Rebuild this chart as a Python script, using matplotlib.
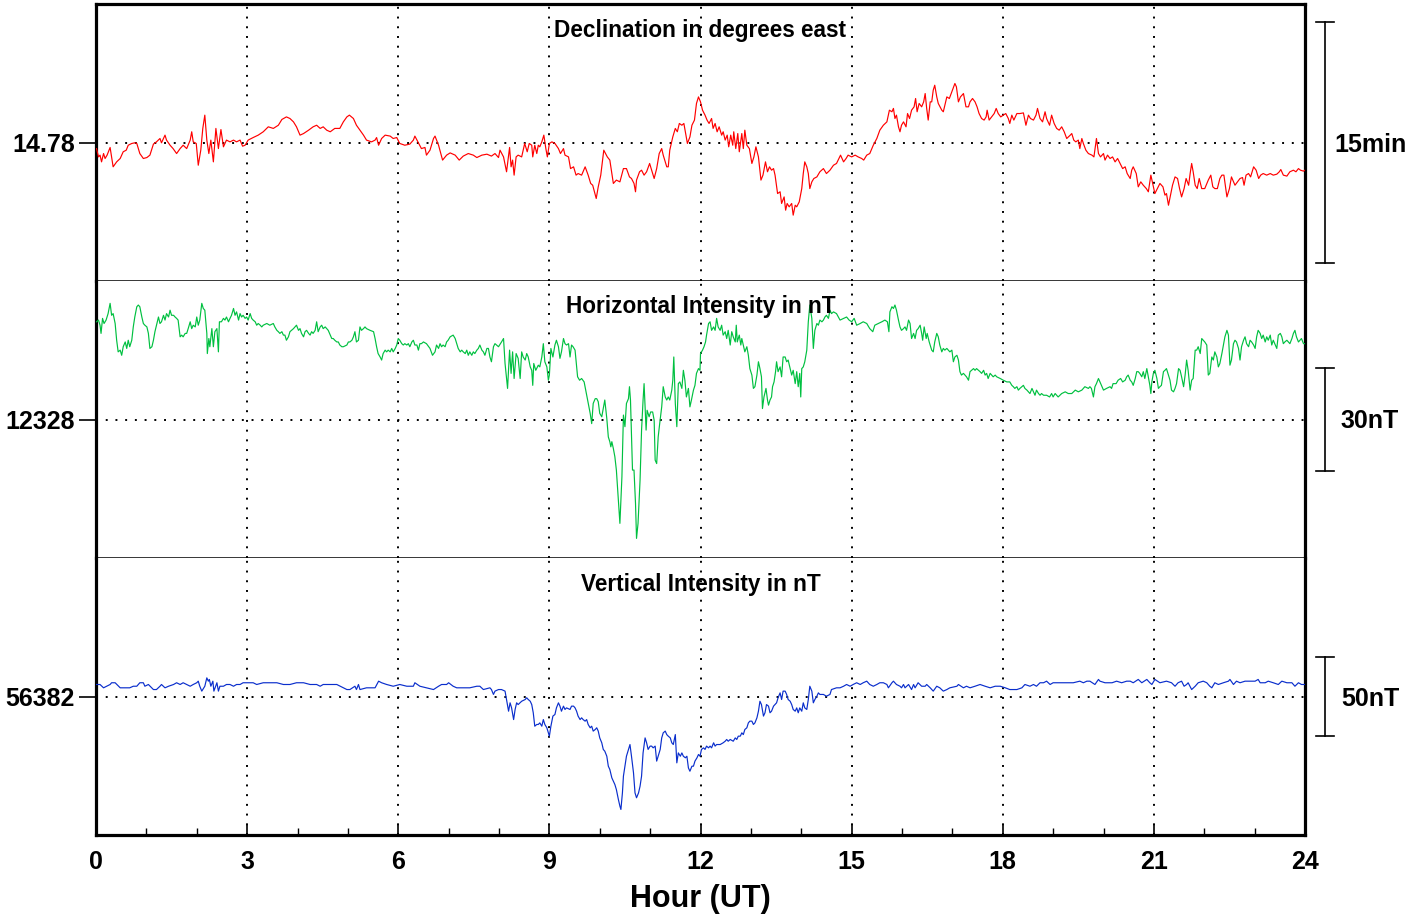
import matplotlib
matplotlib.use("Agg")
import matplotlib.pyplot as plt
from matplotlib.transforms import blended_transform_factory, offset_copy
from matplotlib.ticker import MultipleLocator

plt.rcParams['font.family'] = ['Liberation Sans', 'DejaVu Sans']
plt.rcParams['font.weight'] = 'bold'

# ---------------- data ----------------
D_BASE = 14.78      # degrees
H_BASE = 12328      # nT
Z_BASE = 56382      # nT
SCALE_D_ARCMIN = 15
SCALE_H_NT = 30
SCALE_Z_NT = 50

# Declination deviation from baseline, arc-minutes
D_HOURS = [
    0.01,0.05,0.08,0.11,0.15,0.18,0.22,0.28,0.31,0.34,
    0.41,0.48,0.54,0.60,0.64,0.71,0.77,0.81,0.87,0.94,
    1.01,1.07,1.14,1.20,1.27,1.30,1.37,1.40,1.47,1.53,
    1.60,1.67,1.73,1.80,1.87,1.90,1.93,1.99,2.03,2.08,
    2.12,2.16,2.20,2.24,2.28,2.33,2.38,2.43,2.48,2.53,
    2.59,2.66,2.73,2.79,2.86,2.91,2.96,3.02,3.12,3.22,
    3.32,3.42,3.52,3.62,3.69,3.78,3.85,3.92,3.98,4.05,
    4.12,4.22,4.31,4.38,4.45,4.51,4.58,4.65,4.74,4.84,
    4.91,4.98,5.03,5.11,5.17,5.24,5.31,5.37,5.47,5.54,
    5.57,5.61,5.67,5.74,5.84,5.90,5.97,6.03,6.13,6.23,
    6.30,6.33,6.40,6.46,6.53,6.56,6.63,6.70,6.73,6.80,
    6.88,6.96,7.03,7.13,7.21,7.29,7.39,7.49,7.56,7.66,
    7.76,7.85,7.92,7.99,
    8.02,8.09,8.15,8.21,8.24,8.27,8.30,8.34,8.38,8.45,
    8.51,8.56,8.60,8.65,8.67,8.71,8.75,8.78,8.81,8.85,
    8.89,8.93,8.96,9.00,9.05,9.11,9.18,9.22,9.28,9.31,
    9.38,9.42,9.48,9.53,9.57,9.64,9.71,9.77,9.82,9.86,
    9.93,9.97,10.02,10.08,10.15,10.20,10.27,10.33,10.40,10.47,
    10.53,10.59,10.63,10.68,10.71,10.73,10.79,10.83,10.88,10.93,
    10.99,11.03,11.08,11.13,11.18,11.23,11.26,11.33,11.36,11.39,
    11.45,11.50,11.54,11.58,11.63,11.67,11.71,11.74,11.79,11.83,
    11.88,11.92,11.96,12.00,12.04,12.09,12.13,12.17,12.22,12.25,
    12.29,12.33,12.37,12.42,12.45,12.49,12.53,12.56,12.60,12.64,
    12.66,12.70,12.74,12.77,12.82,12.85,12.88,12.92,12.97,13.02,
    13.06,13.10,13.15,13.20,13.24,13.29,13.33,13.37,13.41,13.45,
    13.48,13.53,13.58,13.61,13.66,13.69,13.72,13.76,13.81,13.84,
    13.88,13.91,13.96,14.01,14.04,14.07,14.11,14.14,14.17,14.21,
    14.25,14.31,14.37,14.44,14.50,14.57,14.64,14.70,14.78,14.84,
    14.89,14.93,15.00,15.07,15.13,15.20,15.24,15.30,15.36,15.43,
    15.50,15.56,15.63,15.70,15.75,15.80,15.83,15.86,15.89,15.93,
    15.96,
    15.99,16.03,16.08,16.11,16.15,16.19,16.24,16.27,16.30,16.34,
    16.39,16.43,16.46,16.49,16.52,16.56,16.59,16.62,16.65,16.69,
    16.72,16.79,16.82,16.85,16.89,16.94,16.99,17.05,17.08,17.12,
    17.16,17.22,17.27,17.32,17.35,17.40,17.45,17.49,17.53,17.58,
    17.63,17.67,17.69,17.73,17.78,17.83,17.87,17.91,17.96,18.01,
    18.06,18.11,18.14,18.18,18.22,18.28,18.34,18.41,18.46,18.51,
    18.55,18.61,18.66,18.69,18.74,18.79,18.84,18.87,18.93,18.97,
    19.02,19.07,19.12,19.17,19.22,19.27,19.34,19.37,19.41,19.45,
    19.50,19.53,19.57,19.60,19.65,19.70,19.77,19.81,19.86,19.90,
    19.94,20.00,20.03,20.08,20.13,20.18,20.23,20.28,20.33,20.38,
    20.43,20.47,20.53,20.56,20.59,20.65,20.69,20.74,20.79,20.85,
    20.89,20.94,20.99,21.02,21.07,21.12,21.18,21.22,21.25,21.29,
    21.33,21.37,21.42,21.47,21.51,21.55,21.60,21.64,21.69,21.72,
    21.75,21.78,21.82,21.86,21.90,21.95,22.01,22.08,22.13,22.17,
    22.21,22.26,22.31,22.35,22.39,22.45,22.50,22.54,22.61,22.66,
    22.71,22.76,22.79,22.83,22.88,22.92,22.98,23.03,23.08,23.12,
    23.17,23.24,23.31,23.37,23.44,23.49,23.52,23.57,23.64,23.70,
    23.77,23.82,23.87,23.91,23.97,24.00,
]
D_DEV = [
    -0.38,-0.90,-0.79,-1.21,-0.69,-1.00,-0.79,-0.31,-0.90,-1.52,
    -1.21,-1.00,-0.58,-0.48,-0.17,-0.06,-0.02,-0.06,-0.69,-1.00,
    -0.94,-0.79,-0.10,0.04,0.25,-0.02,0.46,0.15,-0.17,-0.38,
    -0.69,-0.38,-0.17,-0.38,0.15,0.67,0.04,-0.06,-1.42,-0.48,
    0.88,1.71,0.15,-0.69,0.15,-1.21,0.88,-0.38,0.81,-0.27,
    0.15,0.04,0.15,0.04,0.15,-0.23,-0.17,0.15,0.31,0.46,
    0.67,0.98,0.88,1.08,1.44,1.60,1.50,1.29,0.98,0.46,
    0.56,0.77,0.98,1.08,0.88,0.98,0.77,0.67,0.88,0.88,
    1.29,1.60,1.71,1.50,1.08,0.77,0.46,0.15,0.04,0.15,
    0.31,-0.17,0.25,0.46,0.40,0.25,0.31,-0.06,-0.17,-0.10,
    0.15,0.40,-0.02,-0.38,-0.31,-0.79,-0.48,0.25,0.40,-0.17,
    -1.10,-0.79,-0.65,-0.79,-1.10,-0.85,-0.69,-0.79,-0.94,-0.79,
    -0.73,-0.85,-0.69,-0.94,
    -0.48,-0.90,-1.83,-0.31,-1.52,-1.10,-2.04,-0.90,-0.79,-0.90,
    -0.06,-0.58,-0.06,-0.17,-0.90,-0.17,-0.69,-0.17,-0.27,0.04,
    0.46,-0.38,-0.90,-0.06,0.04,-0.06,-0.38,-0.69,-0.38,-0.79,
    -0.90,-1.63,-1.52,-2.04,-1.94,-2.04,-1.52,-2.04,-2.56,-2.67,
    -3.50,-2.77,-2.04,-0.48,-0.90,-1.10,-2.56,-2.35,-2.46,-1.63,
    -1.63,-2.15,-2.25,-2.56,-3.08,-2.35,-1.83,-1.73,-2.04,-1.83,
    -1.31,-1.73,-2.25,-1.63,-0.69,-0.38,-0.79,-1.52,-1.52,-0.48,
    0.35,0.88,0.67,1.19,1.08,1.19,0.46,-0.06,0.35,1.08,
    1.40,2.44,2.85,2.54,2.02,1.71,1.40,1.19,1.50,0.88,
    1.19,0.67,0.98,0.46,0.67,0.15,0.46,-0.27,0.46,-0.17,
    0.67,-0.38,0.56,-0.58,0.56,-0.38,0.77,-0.17,-0.38,-1.31,
    -0.90,-0.27,-0.90,-2.35,-2.04,-1.21,-1.83,-1.52,-1.73,-1.63,
    -2.04,-3.19,-3.08,-3.81,-3.40,-4.23,-3.81,-4.02,-3.81,-4.54,
    -3.92,-4.02,-3.71,-2.88,-1.94,-1.21,-1.52,-1.94,-2.88,-2.46,
    -2.25,-2.15,-1.83,-1.63,-1.94,-1.73,-1.42,-1.31,-0.79,-1.21,
    -1.00,-0.79,-0.90,-0.79,-0.90,-1.00,-1.10,-0.79,-0.69,-0.17,
    0.25,0.77,1.08,1.29,2.02,1.92,2.13,1.50,1.71,0.98,
    0.67,
    1.08,1.29,0.98,1.81,1.50,2.02,2.23,2.75,1.92,2.44,
    2.23,2.54,3.06,2.13,1.40,2.54,2.54,3.27,3.58,2.85,
    2.44,2.02,1.92,2.33,2.85,2.75,3.17,3.69,3.48,2.54,
    2.85,3.06,2.23,2.23,2.54,2.75,2.54,2.23,1.81,1.50,
    1.40,1.60,2.02,1.40,1.60,1.81,2.13,1.81,1.60,1.71,
    1.81,1.50,1.19,1.71,1.40,1.81,1.81,1.85,1.08,1.71,
    1.50,1.40,1.71,2.13,1.50,1.29,1.92,1.50,1.08,1.71,
    1.19,0.88,0.77,0.98,0.67,0.25,0.46,0.56,0.15,0.04,
    0.15,-0.38,0.25,-0.06,-0.48,-0.69,-0.79,-0.90,0.25,-0.69,
    -0.90,-0.69,-1.10,-0.79,-1.00,-0.90,-1.21,-1.00,-1.31,-1.63,
    -1.52,-1.94,-2.25,-1.73,-1.52,-1.94,-2.77,-2.46,-2.67,-2.88,
    -3.08,-2.04,-2.77,-3.19,-2.88,-2.56,-2.77,-3.29,-3.19,-3.92,
    -3.29,-2.67,-2.15,-2.25,-2.88,-3.40,-2.88,-2.25,-2.67,-1.94,
    -1.31,-1.83,-2.67,-2.88,-2.25,-2.88,-2.88,-2.35,-2.04,-2.77,
    -2.88,-2.88,-2.25,-2.04,-2.04,-3.40,-2.88,-2.15,-2.67,-2.46,
    -2.25,-2.19,-2.67,-2.04,-1.94,-2.15,-1.52,-1.73,-2.25,-2.04,
    -1.94,-2.04,-1.94,-2.04,-1.98,-1.83,-1.69,-2.04,-2.10,-1.83,
    -1.73,-1.83,-1.63,-1.73,-1.79,-1.73,
]

# Horizontal intensity deviation from baseline, nT
H_HOURS = [
    0.01,0.05,0.08,0.10,0.13,0.16,0.20,0.24,0.28,0.31,
    0.34,0.38,0.41,0.44,0.48,0.51,0.54,0.58,0.61,0.64,
    0.67,0.71,0.74,0.77,0.81,0.84,0.87,0.91,0.94,0.97,
    1.01,1.04,1.07,1.11,1.14,1.17,1.20,1.24,1.27,1.30,
    1.34,1.37,1.40,1.44,1.47,1.50,1.54,1.57,1.60,1.63,
    1.67,1.70,1.73,1.77,1.80,1.83,1.87,1.90,1.93,1.97,
    2.00,2.03,2.06,2.10,2.13,2.16,2.20,2.21,2.24,2.26,
    2.30,2.33,2.36,2.40,2.43,2.45,2.49,2.53,2.56,2.59,
    2.63,2.66,2.69,2.73,2.76,2.79,2.83,2.86,2.89,2.92,
    2.96,2.99,3.02,3.06,3.09,3.12,3.16,3.19,3.22,3.26,
    3.29,3.32,3.39,3.45,3.52,3.55,3.59,3.62,3.65,3.69,
    3.72,3.75,3.78,3.82,3.85,3.92,3.98,4.02,4.05,4.08,
    4.12,4.15,4.18,4.22,4.25,4.28,4.31,4.35,4.38,4.41,
    4.45,4.48,4.51,4.55,4.58,4.61,4.65,4.68,4.71,4.74,
    4.78,4.81,4.84,4.88,4.91,4.98,5.01,5.04,5.08,5.11,
    5.14,5.17,5.21,5.24,5.27,5.31,5.34,5.37,5.44,5.51,
    5.54,5.57,5.60,5.64,5.67,5.70,5.74,5.77,5.80,5.84,
    5.87,5.90,5.94,5.97,6.00,6.03,6.07,6.10,6.13,6.17,
    6.20,6.23,6.27,6.30,6.33,6.37,6.40,6.43,6.46,6.50,
    6.56,6.63,6.68,6.73,6.76,6.80,6.83,6.86,6.89,6.93,
    6.96,6.99,7.03,7.09,7.13,7.16,7.19,7.23,7.26,7.29,
    7.33,7.36,7.39,7.42,7.46,7.49,7.52,7.56,7.59,7.62,
    7.66,7.69,7.72,7.76,7.79,7.82,7.85,7.89,7.92,7.95,
    7.99,
    8.05,8.09,8.12,8.17,8.21,8.24,8.27,8.30,8.34,8.38,
    8.42,8.45,8.48,8.52,8.55,8.58,8.62,8.65,8.67,8.69,
    8.73,8.78,8.81,8.85,8.88,8.91,8.95,8.98,9.00,9.03,
    9.07,9.11,9.14,9.18,9.21,9.24,9.28,9.31,9.34,9.38,
    9.41,9.44,9.47,9.51,9.56,9.60,9.64,9.69,9.74,9.77,
    9.81,9.84,9.87,9.91,9.94,9.97,10.00,10.04,10.07,10.10,
    10.14,10.17,10.20,10.22,10.24,10.27,10.30,10.33,10.37,10.40,
    10.44,10.47,10.50,10.53,10.57,10.59,10.61,10.65,10.68,10.71,
    10.73,10.76,10.80,10.83,10.86,10.88,10.92,10.94,10.98,11.01,
    11.05,11.08,11.10,11.13,11.16,11.19,11.23,11.26,11.30,11.33,
    11.36,11.39,11.43,11.45,11.47,11.50,11.53,11.56,11.59,11.63,
    11.66,11.69,11.72,11.76,11.79,11.82,11.86,11.89,11.92,11.96,
    11.99,12.00,12.04,12.07,12.10,12.12,12.16,12.19,12.22,12.26,
    12.29,12.32,12.35,12.39,12.42,12.45,12.49,12.52,12.55,12.59,
    12.62,12.65,12.69,12.71,12.73,12.77,12.80,12.82,12.85,12.88,
    12.92,12.95,12.98,13.02,13.05,13.08,13.12,13.15,13.18,13.21,
    13.23,13.26,13.30,13.33,13.35,13.38,13.41,13.43,13.46,13.49,
    13.51,13.54,13.58,13.61,13.64,13.68,13.71,13.74,13.78,13.81,
    13.84,13.88,13.91,13.94,13.97,13.99,14.01,14.04,14.07,14.11,
    14.14,14.17,14.21,14.24,14.27,14.31,14.34,14.37,14.41,14.44,
    14.47,14.50,14.54,14.57,14.60,14.64,14.70,14.77,14.84,14.90,
    14.95,15.00,15.05,15.10,15.17,15.23,15.30,15.36,15.42,15.46,
    15.53,15.60,15.66,15.71,15.74,15.76,15.80,15.83,15.86,15.89,
    15.93,15.96,
    15.99,16.03,16.06,16.09,16.13,16.16,16.19,16.23,16.26,16.29,
    16.32,16.36,16.39,16.41,16.44,16.48,16.50,16.54,16.59,16.62,
    16.65,16.69,16.72,16.75,16.79,16.82,16.85,16.89,16.92,16.95,
    16.99,17.02,17.05,17.09,17.12,17.15,17.18,17.22,17.25,17.28,
    17.32,17.35,17.38,17.42,17.45,17.48,17.52,17.55,17.58,17.62,
    17.65,17.68,17.71,17.75,17.78,17.81,17.85,17.88,17.95,18.01,
    18.08,18.14,18.18,18.21,18.24,18.28,18.31,18.34,18.38,18.41,
    18.44,18.48,18.51,18.54,18.58,18.61,18.64,18.67,18.71,18.74,
    18.77,18.81,18.87,18.93,18.97,19.00,19.04,19.10,19.17,19.24,
    19.30,19.37,19.44,19.50,19.57,19.63,19.70,19.73,19.76,19.80,
    19.83,19.86,19.90,19.93,19.96,20.00,20.06,20.13,20.16,20.19,
    20.25,20.29,20.34,20.38,20.43,20.46,20.49,20.53,20.56,20.59,
    20.63,20.66,20.69,20.72,20.76,20.79,20.82,20.86,20.89,20.92,
    20.94,20.96,20.99,21.02,21.06,21.09,21.12,21.15,21.19,21.22,
    21.25,21.29,21.32,21.35,21.39,21.42,21.45,21.49,21.52,21.55,
    21.59,21.62,21.65,21.68,21.72,21.75,21.78,21.82,21.85,21.88,
    21.92,21.95,21.98,22.01,22.05,22.08,22.11,22.15,22.18,22.21,
    22.25,22.28,22.31,22.35,22.38,22.41,22.45,22.48,22.51,22.54,
    22.58,22.61,22.64,22.68,22.71,22.74,22.78,22.81,22.84,22.88,
    22.91,22.94,22.98,23.01,23.04,23.07,23.11,23.14,23.17,23.21,
    23.24,23.27,23.31,23.34,23.37,23.41,23.44,23.47,23.51,23.54,
    23.57,23.60,23.64,23.67,23.70,23.74,23.77,23.80,23.83,23.87,
    23.90,23.93,23.97,24.00,
]
H_DEV = [
    28.6,29.1,27.6,25.2,29.6,28.1,29.1,31.0,34.0,30.5,
    31.0,28.1,23.2,19.8,20.3,18.8,21.3,22.7,20.8,23.2,
    21.3,23.2,27.1,30.0,33.0,33.5,33.0,30.0,28.1,27.6,
    27.1,25.2,20.8,21.3,23.2,25.7,27.6,30.0,28.1,28.6,
    30.5,29.1,31.0,30.0,32.0,30.5,30.5,30.0,29.6,29.1,
    24.2,24.7,24.2,25.2,25.2,26.6,28.6,26.6,27.6,27.1,
    30.0,27.6,29.1,34.0,32.5,32.0,25.2,19.3,23.7,21.3,
    26.6,21.3,25.7,26.6,19.8,28.6,28.6,29.6,29.1,30.0,
    28.6,29.6,30.5,32.5,30.5,31.5,29.1,31.0,30.0,30.5,
    29.6,30.0,29.1,31.0,29.6,29.1,28.6,27.6,28.1,27.6,
    27.1,27.6,28.1,27.6,28.1,27.1,26.1,25.7,25.2,25.7,
    24.7,24.7,23.2,24.2,25.7,26.6,27.6,26.1,26.6,25.2,
    24.2,25.7,26.1,25.2,24.7,25.7,25.2,26.1,28.6,25.7,
    27.1,27.6,26.6,27.1,26.6,26.1,24.7,23.7,23.7,23.2,
    22.7,22.7,21.8,21.3,21.3,21.8,22.7,22.7,23.2,24.2,
    25.7,22.7,23.2,27.1,26.1,26.6,27.1,26.6,26.1,25.7,
    23.7,21.3,19.3,18.3,17.4,19.3,20.3,19.8,20.3,19.8,
    20.8,19.8,20.8,21.8,23.7,23.2,22.2,21.8,22.2,21.8,
    22.2,21.3,22.7,23.2,21.8,21.8,20.3,22.2,22.2,22.7,
    22.2,20.8,18.8,19.8,21.8,20.8,22.2,21.3,21.8,21.3,
    22.7,23.2,24.2,24.7,23.7,22.2,20.8,19.8,20.3,19.8,
    19.3,20.3,18.8,19.8,18.8,19.8,19.3,20.3,20.8,21.8,
    20.3,19.8,18.8,20.8,20.8,18.3,16.9,21.3,22.2,21.8,
    21.3,
    22.7,23.7,16.4,9.1,20.3,13.5,19.8,12.0,19.3,17.9,
    12.0,19.8,18.3,17.4,19.3,18.3,15.4,14.4,10.0,16.4,
    14.4,15.9,15.4,18.3,22.2,16.9,15.4,11.5,13.0,20.8,
    18.3,21.8,23.2,21.3,17.9,19.8,23.7,22.2,21.8,22.2,
    18.3,21.8,21.3,20.3,12.5,11.5,12.0,11.0,7.1,4.7,
    1.8,-1.2,4.7,6.1,6.1,5.2,1.8,0.8,3.2,5.7,
    0.3,-5.1,-6.5,-8.0,-6.5,-8.5,-10.9,-14.8,-23.6,-30.4,
    -16.8,1.3,-2.1,4.7,6.1,9.6,5.7,-14.8,-14.8,-24.6,
    -34.8,-30.4,-17.8,-3.1,5.7,10.5,-3.1,2.7,0.8,2.2,
    2.2,-0.2,-11.9,-12.9,-5.1,-1.2,3.7,9.6,6.6,5.7,
    6.6,5.7,8.6,11.5,18.3,4.7,-2.1,10.5,11.0,9.1,
    14.4,11.5,6.6,9.1,3.7,5.7,8.6,10.0,13.5,14.9,
    14.4,19.3,20.3,21.3,22.7,24.7,28.1,28.6,26.1,27.1,
    26.1,29.6,27.1,26.1,27.6,24.7,25.7,23.7,26.1,21.8,
    25.7,24.2,22.7,27.6,22.7,24.7,21.8,23.7,21.8,19.8,
    21.3,18.8,14.9,13.0,9.1,9.6,13.0,16.9,14.9,12.5,
    3.2,6.6,9.1,5.7,4.2,5.7,6.6,9.6,11.0,14.0,
    16.9,14.0,15.4,12.5,18.3,18.3,16.9,17.4,14.9,13.0,
    14.4,10.5,14.0,9.6,13.5,6.6,14.9,15.4,16.9,20.3,
    28.6,33.5,29.6,20.8,26.1,28.1,27.6,29.1,28.6,29.1,
    30.0,30.5,29.6,32.0,31.0,31.5,31.0,29.1,29.6,30.0,
    29.1,28.6,29.6,27.6,28.1,28.6,28.1,26.6,25.7,27.6,
    28.1,28.6,29.1,28.6,25.7,31.5,33.0,32.5,33.5,32.0,
    29.1,27.1,
    26.1,26.6,27.1,26.1,29.1,28.1,23.7,25.2,23.7,26.1,
    26.6,27.6,25.2,23.2,27.1,23.7,25.2,22.7,20.3,19.8,
    22.7,25.2,24.2,21.8,19.8,20.8,20.3,20.8,20.3,19.8,
    20.3,16.9,18.3,18.8,17.4,14.0,13.0,13.5,13.0,12.5,
    11.5,14.0,14.4,14.9,14.4,14.9,14.4,14.0,13.5,14.4,
    13.0,13.5,12.0,13.5,13.0,12.5,13.0,12.5,12.0,11.5,
    11.0,11.0,10.0,9.6,9.1,9.6,8.6,9.1,9.6,10.0,
    9.1,8.6,8.1,7.6,9.1,8.1,7.1,8.6,7.6,7.1,
    7.6,7.1,7.1,6.6,7.6,6.6,7.6,6.6,7.6,8.1,
    7.6,7.6,8.6,8.1,8.6,9.6,9.1,9.6,9.1,6.6,
    9.6,10.5,12.0,11.0,10.0,8.6,9.1,9.6,9.1,10.5,
    10.5,11.5,12.0,11.0,11.5,12.5,13.0,11.5,11.0,10.0,
    12.0,14.0,14.0,13.5,12.5,14.0,12.0,14.9,12.5,10.0,
    7.6,11.0,13.5,14.4,12.0,9.1,9.6,10.0,14.0,14.4,
    14.9,13.0,11.5,8.6,8.1,9.1,10.5,14.9,14.4,12.5,
    9.6,13.0,17.4,14.4,8.6,11.5,12.0,20.3,20.3,21.3,
    19.3,23.7,23.2,22.7,21.8,13.0,13.5,18.3,17.4,19.8,
    18.3,15.4,16.4,19.3,21.8,24.2,26.1,24.7,15.9,17.4,
    22.2,23.2,22.7,20.8,17.4,21.3,23.2,24.2,22.2,21.3,
    23.2,22.7,21.8,20.8,24.2,26.1,25.2,23.7,24.7,22.7,
    24.2,23.2,24.7,21.8,23.2,21.8,20.8,24.7,25.2,24.2,
    22.2,22.7,23.2,22.7,22.2,23.7,25.2,26.1,24.2,22.7,
    23.2,23.7,22.2,22.2,
]

# Vertical intensity deviation from baseline, nT
Z_HOURS = [
    0.01,0.08,0.15,0.21,0.28,0.31,0.38,0.48,0.54,0.61,
    0.67,0.74,0.81,0.87,0.94,0.97,1.04,1.14,1.20,1.27,
    1.30,1.37,1.44,1.54,1.60,1.67,1.73,1.80,1.87,1.93,
    2.00,2.03,2.06,2.10,2.16,2.20,2.23,2.25,2.28,2.32,
    2.34,2.40,2.43,2.46,2.53,2.59,2.66,2.73,2.79,2.86,
    2.92,3.02,3.12,3.19,3.32,3.45,3.59,3.72,3.85,3.98,
    4.12,4.25,4.38,4.45,4.51,4.65,4.78,4.91,4.98,5.04,
    5.14,5.17,5.21,5.24,5.37,5.54,5.61,5.67,5.77,5.90,
    6.03,6.17,6.30,6.33,6.43,6.56,6.70,6.80,6.86,6.96,
    7.00,7.09,7.16,7.29,7.42,7.56,7.62,7.69,7.82,7.85,
    7.89,7.92,7.99,
    8.05,8.12,8.15,8.19,8.22,8.25,8.29,8.32,8.35,8.38,
    8.45,8.52,8.55,8.58,8.62,8.65,8.68,8.71,8.75,8.78,
    8.81,8.85,8.88,8.91,8.95,8.98,9.00,9.03,9.07,9.11,
    9.14,9.18,9.21,9.24,9.28,9.31,9.34,9.41,9.44,9.48,
    9.51,9.54,9.57,9.61,9.64,9.67,9.71,9.74,9.77,9.81,
    9.84,9.87,9.91,9.94,9.97,10.00,10.04,10.07,10.10,10.14,
    10.17,10.20,10.24,10.27,10.30,10.33,10.37,10.40,10.42,10.45,
    10.47,10.50,10.53,10.57,10.60,10.63,10.67,10.70,10.73,10.77,
    10.80,10.83,10.86,10.90,10.93,10.96,11.00,11.03,11.06,11.10,
    11.13,11.16,11.20,11.23,11.26,11.30,11.33,11.36,11.40,11.43,
    11.46,11.50,11.53,11.56,11.60,11.63,11.66,11.70,11.73,11.76,
    11.79,11.83,11.86,11.89,11.93,11.96,11.99,12.02,12.06,12.09,
    12.12,12.16,12.19,12.22,12.26,12.29,12.32,12.39,12.45,12.49,
    12.52,12.55,12.59,12.65,12.69,12.72,12.75,12.79,12.82,12.85,
    12.88,12.92,12.95,12.98,13.02,13.05,13.08,13.12,13.15,13.18,
    13.21,13.25,13.28,13.31,13.35,13.38,13.41,13.45,13.48,13.51,
    13.54,13.58,13.61,13.64,13.68,13.71,13.74,13.78,13.81,13.84,
    13.88,13.91,13.94,13.97,14.01,14.04,14.07,14.11,14.14,14.17,
    14.21,14.24,14.27,14.31,14.34,14.37,14.44,14.50,14.57,14.60,
    14.70,14.77,14.84,14.90,14.97,15.03,15.10,15.17,15.23,15.30,
    15.36,15.43,15.50,15.56,15.63,15.70,15.73,15.80,15.83,15.89,
    15.96,
    15.99,16.03,16.06,16.13,16.19,16.23,16.26,16.32,16.39,16.46,
    16.49,16.56,16.62,16.69,16.75,16.82,16.89,16.95,17.09,17.12,
    17.22,17.28,17.35,17.45,17.55,17.65,17.75,17.85,17.95,18.05,
    18.14,18.28,18.38,18.44,18.54,18.61,18.67,18.74,18.81,18.87,
    18.94,19.00,19.14,19.27,19.40,19.53,19.60,19.67,19.73,19.83,
    19.90,19.93,20.03,20.17,20.26,20.36,20.46,20.53,20.59,20.69,
    20.76,20.86,20.92,20.96,21.02,21.12,21.25,21.35,21.42,21.48,
    21.55,21.60,21.65,21.68,21.75,21.82,21.88,21.98,22.05,22.11,
    22.15,22.21,22.28,22.38,22.48,22.51,22.58,22.64,22.71,22.81,
    22.88,22.94,23.01,23.07,23.11,23.21,23.27,23.37,23.47,23.54,
    23.64,23.74,23.80,23.87,23.93,24.00,
]
Z_DEV = [
    7.6,7.6,5.5,6.5,7.6,8.7,8.7,5.5,5.5,5.5,
    5.5,6.5,6.5,8.7,8.7,6.5,7.6,4.4,4.4,6.5,
    7.6,5.5,6.5,7.6,8.7,7.6,8.7,7.6,6.5,7.6,
    8.7,9.7,6.5,3.4,6.5,11.8,9.7,10.8,6.5,9.7,
    3.4,8.7,3.4,6.5,6.5,7.6,7.6,6.5,7.6,7.6,
    8.7,8.7,8.7,7.6,8.7,8.7,8.7,7.6,7.6,8.7,
    8.7,7.6,7.6,6.5,7.6,7.6,7.6,5.5,4.4,4.4,
    6.5,4.4,7.6,4.4,5.5,5.5,9.7,8.7,7.6,6.5,
    7.6,6.5,6.5,8.7,6.5,5.5,4.4,6.5,7.6,7.6,
    8.7,6.5,5.5,5.5,5.5,6.5,6.5,4.4,5.5,4.4,
    1.3,3.4,4.4,
    4.4,3.4,-1.9,-9.3,-4.0,-7.2,-14.6,-8.2,-4.0,-5.1,
    -3.0,-1.9,-0.8,-1.9,-3.0,-5.1,-10.3,-18.8,-17.7,-17.7,
    -16.7,-18.8,-14.6,-17.7,-19.8,-23.0,-25.1,-18.8,-12.4,-11.4,
    -7.2,-4.0,-6.1,-9.3,-6.1,-8.2,-7.2,-8.2,-6.1,-6.1,
    -7.2,-9.3,-12.4,-14.6,-13.5,-14.6,-15.6,-14.6,-17.7,-19.8,
    -18.8,-21.9,-20.9,-19.8,-21.9,-26.2,-29.3,-33.5,-34.6,-37.8,
    -44.1,-46.2,-51.5,-53.6,-55.7,-58.9,-65.2,-69.4,-71.5,-61.0,
    -50.4,-44.1,-37.8,-33.5,-30.4,-37.8,-48.3,-61.0,-64.1,-61.0,
    -56.8,-50.4,-35.7,-26.2,-29.3,-33.5,-31.4,-31.4,-32.5,-31.4,
    -40.9,-37.8,-33.5,-26.2,-23.0,-21.9,-24.1,-25.1,-26.2,-29.3,
    -30.4,-24.1,-42.0,-35.7,-37.8,-35.7,-37.8,-38.8,-37.8,-45.2,
    -47.3,-44.1,-44.1,-40.9,-38.8,-36.7,-37.8,-33.5,-32.5,-33.5,
    -31.4,-32.5,-31.4,-32.5,-29.3,-31.4,-30.4,-30.4,-29.3,-28.3,
    -27.2,-28.3,-27.2,-28.3,-26.2,-27.2,-25.1,-25.1,-23.0,-24.1,
    -20.9,-19.8,-16.7,-15.6,-15.6,-17.7,-16.7,-13.5,-9.3,-3.0,
    -5.1,-12.4,-10.3,-5.1,-6.1,-10.3,-9.3,-6.1,-5.1,-4.0,
    -0.8,2.3,-1.9,3.4,3.4,1.3,-1.9,-3.0,-5.1,-8.2,
    -9.3,-7.2,-10.3,-7.2,-9.3,-4.0,-7.2,-8.2,-1.9,6.5,
    3.4,-4.0,-1.9,0.2,2.3,1.3,1.3,0.2,1.3,4.4,
    5.5,5.5,6.5,7.6,6.5,7.6,8.7,7.6,8.7,9.7,
    7.6,6.5,7.6,8.7,8.7,7.6,5.5,8.7,9.7,7.6,
    6.5,
    5.5,7.6,5.5,7.6,4.4,7.6,5.5,8.7,6.5,6.5,
    7.6,5.5,3.4,6.5,5.5,3.4,4.4,5.5,6.5,7.6,
    5.5,6.5,5.5,6.5,7.6,6.5,5.5,6.5,6.5,5.5,
    4.4,4.4,5.5,7.6,6.5,7.6,6.5,8.7,8.7,9.7,
    7.6,8.7,8.7,8.7,8.7,9.7,8.7,9.7,9.7,7.6,
    10.8,9.7,8.7,8.7,9.7,8.7,9.7,9.7,8.7,10.8,
    8.7,10.8,8.7,7.6,10.8,8.7,9.7,8.7,6.5,8.7,
    9.7,6.5,7.6,8.7,4.4,6.5,8.7,9.7,8.7,6.5,
    5.5,8.7,7.6,8.7,9.7,10.8,7.6,9.7,8.7,9.7,
    9.7,9.7,9.7,10.8,8.7,8.7,9.7,8.7,7.6,9.7,
    8.7,8.7,6.5,8.7,7.6,7.6,
]

TITLES = ["Declination in degrees east", "Horizontal Intensity in nT",
          "Vertical Intensity in nT"]
BASE_LABELS = ["14.78", "12328", "56382"]
SCALE_LABELS = ["15min", "30nT", "50nT"]
HOUR_TICKS = list(range(0, 25, 3))

# ---------------- figure ----------------
W, H = 1421, 917
fig = plt.figure(figsize=(W / 100, H / 100), dpi=100)
left_px, right_px = 96, 1305
panel_edges = [(4, 281), (281, 558), (558, 835)]

d_deg = [D_BASE + v / 60.0 for v in D_DEV]
h_nt = [H_BASE + v for v in H_DEV]
z_nt = [Z_BASE + v for v in Z_DEV]

series = [
    (D_HOURS, d_deg, D_BASE, 0.14427, SCALE_D_ARCMIN / 60.0, '#ff0000'),
    (H_HOURS, h_nt, H_BASE, 40.54, SCALE_H_NT, '#00c040'),
    (Z_HOURS, z_nt, Z_BASE, 87.66, SCALE_Z_NT, '#0a2ecc'),
]

grid_style = dict(color='black', lw=1.4, ls=(0, (1, 4)), zorder=1)
thick, thin = 2.3, 1.1

for i, ((top, bot), (xs, ys, base, half, scale, col)) in enumerate(zip(panel_edges, series)):
    ax = fig.add_axes([left_px / W, 1 - bot / H, (right_px - left_px) / W, (bot - top) / H])
    ax.plot(xs, ys, color=col, lw=0.85, zorder=3)
    ax.set_xlim(0, 24)
    ax.set_ylim(base - half, base + half)
    for hx in HOUR_TICKS[1:-1]:
        ax.axvline(hx, **grid_style)
    ax.axhline(base, **grid_style)

    ax.spines['left'].set_linewidth(thick)
    ax.spines['right'].set_linewidth(thick)
    ax.spines['top'].set_linewidth(thick if i == 0 else thin)
    ax.spines['bottom'].set_linewidth(thick if i == 2 else thin)
    if i > 0:
        ax.spines['top'].set_visible(False)

    ax.set_yticks([base])
    ax.set_yticklabels([BASE_LABELS[i]])
    ax.tick_params(axis='y', direction='out', length=12, width=1.2, labelsize=18, pad=3)

    if i < 2:
        ax.tick_params(axis='x', bottom=False, labelbottom=False, which='both')
    else:
        ax.set_xticks(HOUR_TICKS)
        ax.xaxis.set_minor_locator(MultipleLocator(1))
        ax.tick_params(axis='x', which='major', direction='in', length=8, width=1.2,
                       labelsize=18, pad=11)
        ax.tick_params(axis='x', which='minor', direction='in', length=5, width=1.0)
        ax.set_xlabel("Hour (UT)", fontsize=22, fontweight='bold', labelpad=7)

    ax.text(0.5, 1 - 26 / 277, TITLES[i], transform=ax.transAxes, ha='center', va='center',
            fontsize=16.3, fontweight='bold', zorder=4)

    # scale bar on the right
    tr = blended_transform_factory(ax.transAxes, ax.transData)
    xb = (1325 - left_px) / (right_px - left_px)
    xc0 = (1316 - left_px) / (right_px - left_px)
    xc1 = (1334 - left_px) / (right_px - left_px)
    y0, y1 = base - scale / 2, base + scale / 2
    ax.plot([xb, xb], [y0, y1], transform=tr, color='black', lw=1.2, clip_on=False)
    ax.plot([xc0, xc1], [y0, y0], transform=tr, color='black', lw=1.2, clip_on=False)
    ax.plot([xc0, xc1], [y1, y1], transform=tr, color='black', lw=1.2, clip_on=False)
    xt = (1370 - left_px) / (right_px - left_px)
    tr_txt = offset_copy(tr, fig=fig, x=0, y=-2, units='dots')
    ax.text(xt, base, SCALE_LABELS[i], transform=tr_txt, ha='center', va='center',
            fontsize=18, fontweight='bold')

fig.savefig("out.png", dpi=100)
